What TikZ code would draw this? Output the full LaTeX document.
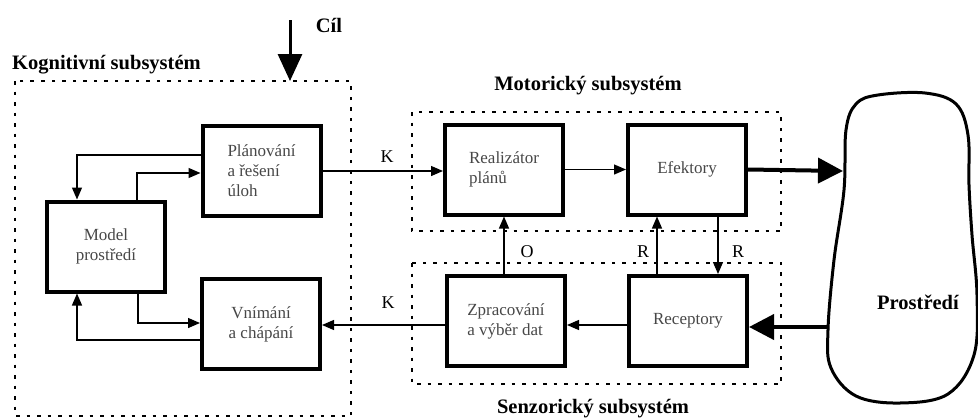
\documentclass[tikz,border=0pt]{standalone}
\usepackage{fontspec}
\setmainfont{Liberation Serif}
\usetikzlibrary{arrows.meta}
\tikzset{
  blk/.style={draw, line width=4pt, minimum width=118pt, minimum height=90pt, inner sep=0pt,
    align=left, text=black!72, font=\fontsize{17}{20}\selectfont},
  grp/.style={draw, line width=2pt, dash pattern=on 3.5pt off 7pt},
  arr/.style={line width=1.3pt, -{Triangle[length=12pt,width=10pt]}},
  thk/.style={line width=4pt, -{Triangle[length=25pt,width=25pt]}},
  cilarr/.style={line width=3pt, -{Triangle[length=27pt,width=24pt]}},
  lbl/.style={font=\fontsize{20.5}{24}\selectfont\bfseries, inner sep=0pt},
  sml/.style={font=\fontsize{18}{20}\selectfont, inner sep=0pt}
}
\begin{document}
\begin{tikzpicture}[x=1pt,y=-1pt]
\useasboundingbox (0,0) rectangle (978,418);
% group boxes
\draw[grp] (15,81) rectangle (351,416);
\draw[grp] (412,112) rectangle (781,231);
\draw[grp] (412,263) rectangle (781,384);
% labels of groups
\node[lbl, anchor=west] (kogl) at (12,65) {Kognitivní subsystém};
\node[lbl] (motl) at (588,86) {Motorický subsystém};
\node[lbl] (senl) at (593,409) {Senzorický subsystém};
\node[lbl] (cill) at (329,25) {Cíl};
% blocks
\node[blk] (plan) at (261.5,171) {Plánování\\a řešení\\úloh\hspace*{14pt}};
\node[blk, align=center] (model) at (106,246.5) {Model\\prostředí};
\node[blk, align=center] (vnim) at (261,324) {Vnímání\\a chápání};
\node[blk] (real) at (504,169.5) {Realizátor\\plánů};
\node[blk] (efek) at (687,169.5) {Efektory};
\node[blk] (zprac) at (506,321) {Zpracování\\a výběr dat};
\node[blk] (recep) at (688,321) {Receptory};
% environment blob
\draw[line width=3pt] plot[smooth cycle, tension=0.6] coordinates {
  (878,95) (925,93) (956,104) (968,135) (969,185) (972,235) (977,295)
  (974,355) (948,394) (900,403) (856,396) (831,368) (828,330) (834,260)
  (844,190) (846,130) (856,104)};
\node[lbl] (env) at (918,302) {Prostředí};
\coordinate (envA) at (843,171);
\coordinate (envB) at (828,327);
% Cil arrow
\coordinate (cilA) at (290,20);
\coordinate (cilB) at (290,81);
\draw[cilarr] (cilA) -- (cilB);
% cognitive internal connectors
\draw[arr] ([yshift=16pt]plan.west) -| ([xshift=-29pt]model.north);
\draw[arr] ([xshift=31pt]model.north) |- ([yshift=-2pt]plan.west);
\draw[arr] ([xshift=32pt]model.south) |- ([yshift=1pt]vnim.west);
\draw[arr] ([yshift=-16pt]vnim.west) -| ([xshift=-29pt]model.south);
% K lines
\draw[arr] (plan.east) -- (plan.east -| real.west);
\node[sml] (k1) at (387,157) {K};
\draw[arr] ([yshift=-4pt]zprac.west) -- ([yshift=-4pt]zprac.west -| vnim.east);
\node[sml] (k2) at (388,303) {K};
% motor / sensor
\draw[arr] (real.east) -- (real.east -| efek.west);
\draw[thk] (efek.east) -- (envA);
\draw[thk] (envB) -- (envB -| recep.east);
\draw[arr] ([yshift=-4pt]recep.west) -- ([yshift=-4pt]recep.west -| zprac.east);
\draw[arr] ([xshift=-2pt]zprac.north) -- ([xshift=-2pt]zprac.north |- real.south);
\node[sml] (o) at (527,252) {O};
\draw[arr] ([xshift=-31pt]recep.north) -- ([xshift=-31pt]recep.north |- efek.south);
\node[sml] (r1) at (643,252) {R};
\draw[arr] ([xshift=31pt]efek.south) -- ([xshift=31pt]efek.south |- recep.north);
\node[sml] (r2) at (738,252) {R};
\end{tikzpicture}
\end{document}
